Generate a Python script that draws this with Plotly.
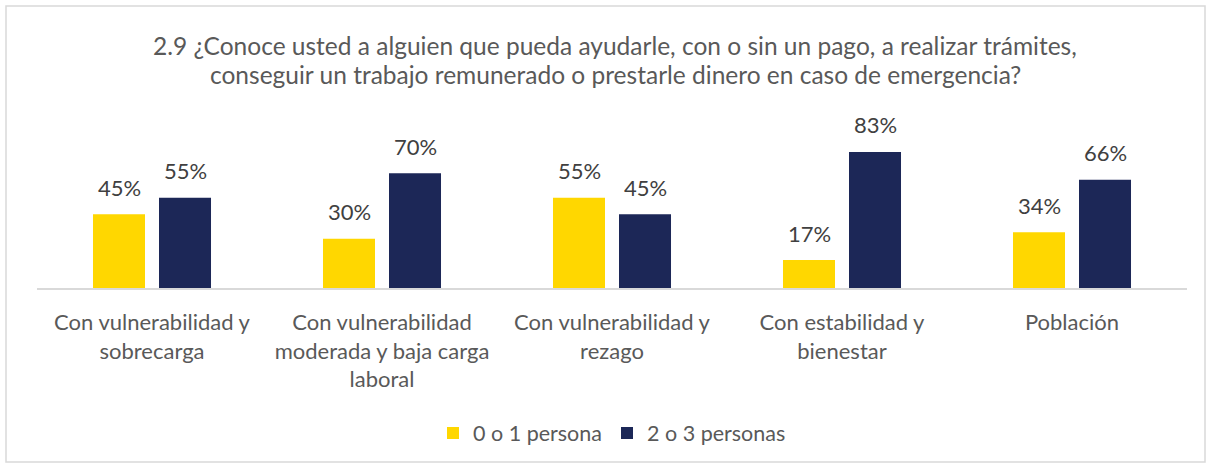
import plotly.graph_objects as go

categories = [
    "Con vulnerabilidad y<br>sobrecarga",
    "Con vulnerabilidad<br>moderada y baja carga<br>laboral",
    "Con vulnerabilidad y<br>rezago",
    "Con estabilidad y<br>bienestar",
    "Población",
]
series_names = ["0 o 1 persona", "2 o 3 personas"]
values_0_1 = [45, 30, 55, 17, 34]
values_2_3 = [55, 70, 45, 83, 66]
title_lines = [
    "2.9 ¿Conoce usted a alguien que pueda ayudarle, con o sin un pago, a realizar trámites,",
    "conseguir un trabajo remunerado o prestarle dinero en caso de emergencia?",
]
colors = ["#FFD700", "#1C2757"]

FONT = "Lato, Carlito, Calibri, sans-serif"
TXT = "#595959"

L, R, T, B = 37, 24, 115, 179
W, H = 1211, 467
pw, ph = W - L - R, H - T - B

fig = go.Figure()
annotations = []
for name, vals, col, xs in zip(series_names, [values_0_1, values_2_3], colors, [-33, 33]):
    fig.add_trace(go.Bar(
        x=categories, y=vals, name=name,
        marker=dict(color=col, line=dict(width=0)),
        cliponaxis=False,
    ))
    for c, v in zip(categories, vals):
        annotations.append(dict(
            x=c, y=v, xref="x", yref="y", text=f"{v}%", showarrow=False,
            xanchor="center", yanchor="middle", xshift=xs, yshift=27,
            font=dict(size=22, color="#404040", family=FONT),
        ))

for yc, line in zip([46, 75], title_lines):
    annotations.append(dict(
        text=line, xref="paper", yref="paper", x=(615 - L) / pw, y=(288 - yc) / ph,
        xanchor="center", yanchor="middle", showarrow=False,
        font=dict(size=24.5, color=TXT, family=FONT),
    ))

fig.update_layout(
    width=W, height=H,
    margin=dict(l=L, r=R, t=T, b=B),
    paper_bgcolor="white", plot_bgcolor="white",
    barmode="group", bargap=0.426, bargroupgap=0.212,
    font=dict(family=FONT, color=TXT, size=21),
    annotations=annotations,
    showlegend=True,
    legend=dict(orientation="h", x=(612 - L) / pw, xanchor="center", y=-(433 - 288) / ph, yanchor="middle",
                font=dict(size=21.5, color=TXT, family=FONT), traceorder="normal",
                itemwidth=30),
    xaxis=dict(showline=True, linecolor="#D9D9D9", linewidth=1.5, ticks="",
               tickfont=dict(size=22, color=TXT, family=FONT), showgrid=False,
               ticklabelstandoff=14),
    yaxis=dict(visible=False, range=[0, ph / 1.64], showgrid=False),
    shapes=[dict(type="rect", xref="paper", yref="paper",
                 x0=(6 - L) / pw, x1=(1205 - L) / pw,
                 y0=(288 - 462) / ph, y1=(288 - 6) / ph,
                 line=dict(color="#D9D9D9", width=1.5), fillcolor="rgba(0,0,0,0)", layer="below")],
)

fig.write_html("out.html", config={"displayModeBar": False},
               post_script="document.body.style.margin='0';document.body.style.overflow='hidden';")
